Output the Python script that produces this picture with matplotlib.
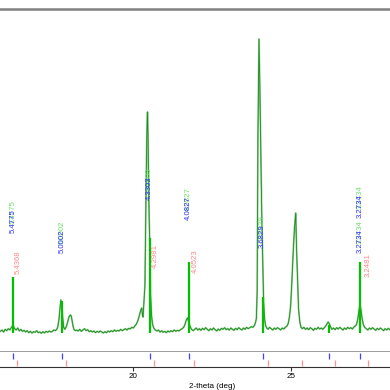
import numpy as np
import matplotlib
matplotlib.use('Agg')
import matplotlib.pyplot as plt

"""
XRD scan with two reference phases marked below it.
Observed counts, calculated stick heights and d-spacing labels.
"""

# observed pattern (2-theta in deg, counts)
tth = [15.78, 15.83, 15.88, 15.93, 15.98, 16.03, 16.08, 16.13, 16.18, 16.23,
       16.28, 16.33, 16.38, 16.43, 16.48, 16.53, 16.58, 16.63, 16.68, 16.73,
       16.78, 16.83, 16.88, 16.93, 16.98, 17.03, 17.08, 17.13, 17.18, 17.23,
       17.28, 17.33, 17.38, 17.43, 17.48, 17.53, 17.58, 17.60, 17.64, 17.67,
       17.70, 17.73, 17.76, 17.79, 17.82, 17.85, 17.88, 17.92, 17.96, 18.00,
       18.03, 18.06, 18.09, 18.12, 18.16, 18.20, 18.25, 18.30, 18.35, 18.40,
       18.45, 18.50, 18.55, 18.60, 18.65, 18.70, 18.75, 18.80, 18.85, 18.90,
       18.95, 19.00, 19.05, 19.10, 19.15, 19.20, 19.25, 19.30, 19.35, 19.40,
       19.45, 19.50, 19.55, 19.60, 19.65, 19.70, 19.75, 19.80, 19.85, 19.90,
       19.95, 20.00, 20.05, 20.10, 20.15, 20.20, 20.24, 20.27, 20.29, 20.31,
       20.34, 20.37, 20.40, 20.43, 20.452, 20.47, 20.49, 20.51, 20.53, 20.55,
       20.58, 20.61, 20.65, 20.70, 20.75, 20.80, 20.85, 20.90, 20.95, 21.00,
       21.05, 21.10, 21.15, 21.20, 21.25, 21.30, 21.35, 21.40, 21.45, 21.50,
       21.55, 21.60, 21.64, 21.68, 21.72, 21.76, 21.80, 21.85, 21.90, 21.95,
       22.00, 22.05, 22.10, 22.15, 22.20, 22.25, 22.30, 22.35, 22.40, 22.45,
       22.50, 22.55, 22.60, 22.65, 22.70, 22.75, 22.80, 22.85, 22.90, 22.95,
       23.00, 23.05, 23.10, 23.15, 23.20, 23.25, 23.30, 23.35, 23.40, 23.45,
       23.50, 23.55, 23.60, 23.65, 23.70, 23.75, 23.80, 23.85, 23.88, 23.91,
       23.935, 23.96, 23.993, 24.02, 24.05, 24.08, 24.11, 24.14, 24.17, 24.20,
       24.24, 24.28, 24.33, 24.38, 24.43, 24.48, 24.53, 24.58, 24.63, 24.68,
       24.73, 24.78, 24.83, 24.88, 24.92, 24.96, 25.00, 25.04, 25.08, 25.12,
       25.16, 25.19, 25.22, 25.25, 25.29, 25.33, 25.37, 25.42, 25.47, 25.52,
       25.57, 25.62, 25.67, 25.72, 25.77, 25.82, 25.87, 25.92, 25.97, 26.02,
       26.07, 26.11, 26.15, 26.19, 26.23, 26.27, 26.31, 26.36, 26.41, 26.46,
       26.51, 26.56, 26.61, 26.66, 26.71, 26.76, 26.81, 26.86, 26.91, 26.96,
       27.01, 27.05, 27.09, 27.13, 27.17, 27.20, 27.23, 27.27, 27.31, 27.35,
       27.40, 27.45, 27.50, 27.55, 27.60, 27.65, 27.70, 27.75, 27.80, 27.85,
       27.90, 27.95, 28.00, 28.05, 28.10, 28.15]
counts = [62, 66, 60, 68, 64, 70, 66, 74, 80, 70,
          66, 72, 63, 68, 62, 65, 60, 64, 58, 62,
          57, 61, 59, 64, 58, 60, 56, 61, 57, 62,
          59, 63, 60, 62, 66, 64, 70, 75, 98, 130,
          156, 140, 100, 74, 68, 72, 78, 92, 106, 111,
          108, 92, 76, 67, 64, 66, 63, 68, 62, 66,
          70, 64, 67, 61, 64, 60, 63, 58, 62, 59,
          63, 60, 57, 61, 58, 63, 60, 64, 61, 66,
          62, 65, 63, 68, 64, 67, 70, 66, 71, 69,
          74, 72, 78, 84, 95, 112, 126, 132, 112, 105,
          150, 200, 440, 650, 720, 640, 480, 380, 300, 170,
          110, 84, 72, 66, 63, 66, 60, 64, 59, 62,
          58, 63, 60, 64, 61, 66, 62, 65, 63, 67,
          70, 74, 82, 95, 102, 92, 78, 68, 64, 68,
          72, 66, 70, 65, 71, 67, 73, 68, 64, 70,
          66, 72, 67, 63, 69, 65, 71, 68, 73, 67,
          70, 66, 72, 68, 65, 71, 67, 73, 69, 66,
          72, 68, 74, 70, 73, 76, 74, 80, 88, 100,
          180, 650, 939, 800, 600, 420, 290, 150, 100, 80,
          72, 68, 74, 70, 66, 72, 68, 73, 70, 66,
          72, 69, 74, 78, 85, 105, 140, 215, 300, 370,
          417, 300, 210, 130, 90, 74, 70, 74, 68, 72,
          67, 73, 70, 65, 71, 68, 74, 69, 72, 68,
          73, 78, 84, 90, 84, 75, 68, 72, 67, 73,
          69, 74, 70, 66, 72, 68, 74, 70, 73, 69,
          75, 78, 82, 98, 125, 141, 128, 100, 82, 74,
          70, 66, 72, 68, 73, 69, 65, 71, 67, 72,
          68, 64, 70, 66, 71, 67]

# phase 1 (blue ticks, green sticks)
ph1_tth = [16.19, 17.745, 20.52, 21.76, 24.11, 26.227, 27.21]
ph1_int = [225, 153, 342, 270, 165, 81, 270]
ph1_lab = ['5.4775', '5.0002', '4.3303', '4.0827', '3.6829', '', '3.2734']
ph1_lab_base = [357, 297, 456, 396, 312, 0, 297]  # counts at bottom of blue text
ph1_extra_tth = [27.21]   # second label pair at same line
ph1_extra_base = [402]

# phase 2 (red ticks)
ph2_tth = [16.316, 17.872, 20.658, 21.929, 24.27, 25.37, 26.42, 27.446]
ph2_lab = ['5.4368', '', '4.2981', '4.0523', '', '', '', '3.2481']
ph2_lab_base = [234, 0, 252, 237, 0, 0, 0, 225]

xMin, xMax = 15.766, 28.155
W = H = 390.
#############################################################################
def main():
  fig = plt.figure(figsize=(3.9, 3.9), dpi=100)
  plt.rcParams['font.family'] = ['Liberation Sans', 'DejaVu Sans']
  ax = fig.add_axes([0, 1-352/H, 1, 343/H])
  axT = fig.add_axes([0, 1-367/H, 1, 15/H], sharex=ax)

  # data line: light under, dark over
  ax.plot(tth, counts, color='#8fcf8f', lw=1.3, zorder=2)
  ax.plot(tth, counts, color='#1f8a1f', lw=0.6, zorder=3)
  ax.vlines(ph1_tth, 58, ph1_int, color='#00c000', lw=1.6, zorder=4)

  lblFs = 5.6
  dy = 27
  for t, lab, b in zip(ph1_tth, ph1_lab, ph1_lab_base):
    if not lab: continue
    ax.text(t, b+dy, lab, rotation=90, ha='center', va='bottom', color='#70e070', fontsize=lblFs, zorder=5)
    ax.text(t, b, lab, rotation=90, ha='center', va='bottom', color='#3030ff', fontsize=lblFs, zorder=6)
  for t, b in zip(ph1_extra_tth, ph1_extra_base):
    ax.text(t, b+dy, '3.2734', rotation=90, ha='center', va='bottom', color='#70e070', fontsize=lblFs, zorder=5)
    ax.text(t, b, '3.2734', rotation=90, ha='center', va='bottom', color='#3030ff', fontsize=lblFs, zorder=6)
  for t, lab, b in zip(ph2_tth, ph2_lab, ph2_lab_base):
    if not lab: continue
    ax.text(t+0.03, b, lab, rotation=90, ha='center', va='bottom', color='#ff8888', fontsize=lblFs, zorder=5)

  ax.set_xlim(xMin, xMax)
  ax.set_ylim(0, 1029)
  for s in ['left', 'right']:
    ax.spines[s].set_visible(False)
  for s in ['top', 'bottom']:
    ax.spines[s].set_color('#808080'); ax.spines[s].set_linewidth(1.8)
  ax.tick_params(left=False, labelleft=False, bottom=False, labelbottom=False)

  # reflection tick panel
  axT.vlines(ph1_tth, 0.53, 0.93, color='#4040ff', lw=0.9)
  axT.vlines(ph2_tth, 0.07, 0.47, color='#ff9090', lw=0.9)
  axT.set_ylim(0, 1)
  for s in ['left', 'right', 'top']:
    axT.spines[s].set_visible(False)
  axT.spines['bottom'].set_color('#303030'); axT.spines['bottom'].set_linewidth(0.8)
  axT.set_xticks([20, 25])
  axT.tick_params(axis='x', length=3, width=0.8, color='#303030', labelsize=5.8, pad=1)
  axT.tick_params(left=False, labelleft=False)
  fig.text(212/W, 1-386/H, '2-theta (deg)', ha='center', va='center', fontsize=5.8)

  fig.savefig('out.png', dpi=100)

#############################################################################
if __name__ == '__main__':
  main()
